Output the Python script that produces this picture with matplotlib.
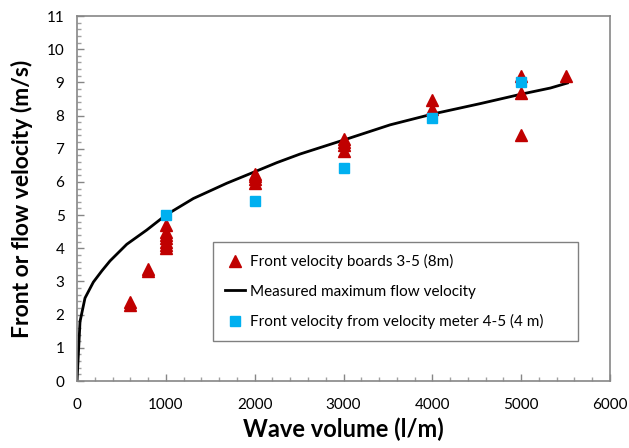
import matplotlib
matplotlib.use("Agg")
import matplotlib.pyplot as plt
from matplotlib.ticker import MultipleLocator

plt.rcParams['font.family'] = ['Lato', 'DejaVu Sans']

# Front velocity boards 3-5 (8m)
tri_x = [600, 600, 800, 800, 1000, 1000, 1000, 1000, 1000, 1000, 1000,
         2000, 2000, 2000, 2000, 3000, 3000, 3000, 3000, 4000, 4000,
         5000, 5000, 5000, 5500]
tri_y = [2.3, 2.38, 3.32, 3.38, 4.0, 4.1, 4.2, 4.3, 4.4, 4.5, 4.7,
         5.98, 6.08, 6.18, 6.25, 6.93, 7.1, 7.2, 7.3, 8.2, 8.47,
         7.42, 8.67, 9.18, 9.2]

# Measured maximum flow velocity
line_x = [0, 34, 90, 184, 280, 372, 560, 785, 1000, 1310, 1686,
          2005, 2249, 2511, 3000, 3525, 4010, 4540, 5010, 5330, 5520]
line_y = [0, 1.79, 2.5, 2.98, 3.32, 3.62, 4.12, 4.55, 5.0, 5.5, 5.96,
          6.31, 6.58, 6.84, 7.26, 7.72, 8.05, 8.36, 8.65, 8.83, 8.98]

# Front velocity from velocity meter 4-5 (4 m)
sq_x = [1000, 2000, 3000, 4000, 5000]
sq_y = [5.0, 5.42, 6.42, 7.92, 9.01]

x_ticks = [0, 1000, 2000, 3000, 4000, 5000, 6000]
y_ticks = list(range(0, 12))

fig = plt.figure(figsize=(6.29, 4.48), dpi=100)
ax = fig.add_axes([77/629, 1-381/448, (610-77)/629, (381-16)/448])

ax.plot(tri_x, tri_y, linestyle='none', marker='^', color='#C00000',
        markersize=8, label='Front velocity boards 3-5 (8m)', zorder=3)
ax.plot(line_x, line_y, color='black', linewidth=2.0,
        label='Measured maximum flow velocity', zorder=2)
ax.plot(sq_x, sq_y, linestyle='none', marker='s', color='#00B0F0',
        markersize=7.5, label='Front velocity from velocity meter 4-5 (4 m)', zorder=4)

ax.set_xlim(0, 6000)
ax.set_ylim(0, 11)
ax.set_xticks(x_ticks)
ax.set_yticks(y_ticks)
ax.xaxis.set_minor_locator(MultipleLocator(200))
ax.yaxis.set_minor_locator(MultipleLocator(0.2))
ax.tick_params(which='major', direction='in', length=5, width=1, color='#868686',
               labelsize=11)
ax.tick_params(axis='x', which='major', pad=12)
ax.tick_params(axis='y', which='major', pad=9)
ax.tick_params(which='minor', direction='in', length=3, width=1, color='#a0a0a0')
for s in ax.spines.values():
    s.set_color('#868686')
    s.set_linewidth(1.2)

ax.set_xlabel('Wave volume (l/m)', fontsize=17, fontweight='bold', labelpad=4)
ax.set_ylabel('Front or flow velocity (m/s)', fontsize=16.5, fontweight='bold', labelpad=10)

leg = ax.legend(loc='upper left',
                bbox_to_anchor=(213/629, 1-338/448, (578-213)/629, (338-242)/448),
                bbox_transform=fig.transFigure, mode='expand',
                fontsize=11, frameon=True, fancybox=False, edgecolor='#808080',
                framealpha=1, handlelength=1.3, handletextpad=0.3,
                labelspacing=1.0, borderpad=0.8, borderaxespad=0)
leg.get_frame().set_linewidth(1.0)

fig.savefig('out.png', dpi=100)
